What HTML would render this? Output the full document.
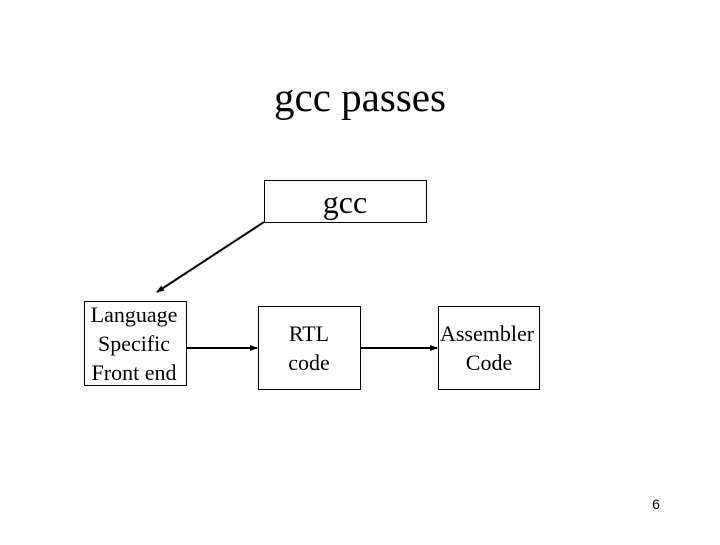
<!DOCTYPE html>
<html><head><style>
body{margin:0;width:720px;height:540px;background:#fff;overflow:hidden;font-family:"Liberation Serif",serif;}
</style></head><body>
<svg width="720" height="540" xmlns="http://www.w3.org/2000/svg" font-family="Liberation Serif, serif">
<defs><marker id="a" markerWidth="8" markerHeight="8" refX="7" refY="4" orient="auto" markerUnits="userSpaceOnUse"><path d="M0,1 L8,4 L0,7 z" fill="#000"/></marker></defs>
<text x="360" y="111" font-size="41" text-anchor="middle">gcc passes</text>
<rect x="264.5" y="180.5" width="162" height="42" fill="#fff" stroke="#000"/>
<text x="345" y="213" font-size="32" text-anchor="middle">gcc</text>
<line x1="264" y1="222" x2="157" y2="292" stroke="#000" stroke-width="2" marker-end="url(#a)"/>
<rect x="84.5" y="301.5" width="102" height="84" fill="#fff" stroke="#000"/>
<text font-size="22" text-anchor="middle"><tspan x="134" y="322">Language</tspan><tspan x="134" y="351">Specific</tspan><tspan x="134" y="380">Front end</tspan></text>
<rect x="258.5" y="306.5" width="102" height="83" fill="#fff" stroke="#000"/>
<text font-size="22" text-anchor="middle"><tspan x="309" y="341">RTL</tspan><tspan x="309" y="370">code</tspan></text>
<rect x="438.5" y="306.5" width="101" height="83" fill="#fff" stroke="#000"/>
<text font-size="22" text-anchor="middle"><tspan x="487" y="341">Assembler</tspan><tspan x="489" y="370">Code</tspan></text>
<line x1="187" y1="348" x2="257" y2="348" stroke="#000" stroke-width="2" marker-end="url(#a)"/>
<line x1="361" y1="348" x2="437" y2="348" stroke="#000" stroke-width="2" marker-end="url(#a)"/>
<text x="656" y="509" font-size="14" font-family="Liberation Sans, sans-serif" text-anchor="middle">6</text>
</svg>
</body></html>
